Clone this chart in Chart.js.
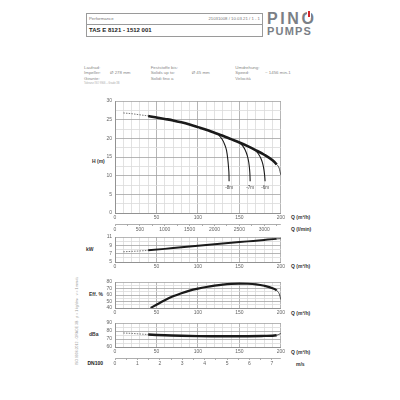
<!DOCTYPE html>
<html>
<head>
<meta charset="utf-8">
<script src="https://cdn.jsdelivr.net/npm/chart.js@4.4.1/dist/chart.umd.min.js"></script>
<style>
  body { margin: 0; width: 400px; height: 400px; background: #fff; position: relative; overflow: hidden;
         font-family: "Liberation Sans", Arial, sans-serif; }
  canvas { position: absolute; }
  .t { position: absolute; white-space: nowrap; line-height: 1; }
  .spec { font-size: 4.4px; color: #888; }
  .lbl { font-size: 5px; color: #333; font-weight: bold; }
</style>
</head>
<body>
<!-- header -->
<div style="position:absolute;left:86px;top:13px;width:175px;height:22px;border:0.8px solid #9a9a9a;"></div>
<div style="position:absolute;left:86px;top:24.3px;width:176px;height:0;border-top:0.8px solid #9a9a9a;"></div>
<div class="t" style="left:89px;top:17.2px;font-size:4.3px;color:#777;">Performance</div>
<div class="t" style="right:140px;top:17.2px;font-size:4.3px;color:#777;">21031008 / 10.03.21 / 1 - 1</div>
<div class="t" style="left:89px;top:26.8px;font-size:6px;font-weight:bold;color:#222;">TAS E 8121 - 1512 001</div>
<div class="t" style="left:267px;top:11px;font-size:16px;font-weight:bold;letter-spacing:2.6px;color:#7b7f86;">PINO</div>
<div style="position:absolute;left:308px;top:10.5px;width:2px;height:6.5px;background:#d6262b;box-shadow:0 0 0 1px #fff;"></div>
<div class="t" style="left:267px;top:25.6px;font-size:11px;font-weight:bold;letter-spacing:1.2px;color:#7b7f86;">PUMPS</div>

<!-- specs -->
<div class="t spec" style="left:84px;top:65.6px;">Laufrad:</div>
<div class="t spec" style="left:84px;top:71.2px;">Impeller:</div>
<div class="t spec" style="left:110px;top:71.2px;">Ø 278 mm</div>
<div class="t spec" style="left:84px;top:77.2px;">Girante:</div>
<div class="t" style="left:84px;top:82.8px;font-size:2.6px;color:#aaa;">Toleranz ISO 9906 – Grade 3B</div>
<div class="t spec" style="left:150.7px;top:65.6px;">Feststoffe bis:</div>
<div class="t spec" style="left:150.7px;top:71.2px;">Solids up to:</div>
<div class="t spec" style="left:191.7px;top:71.2px;">Ø 45 mm</div>
<div class="t spec" style="left:150.7px;top:77.2px;">Solidi fino a</div>
<div class="t spec" style="left:235.3px;top:65.6px;">Umdrehung:</div>
<div class="t spec" style="left:235.3px;top:71.2px;">Speed:</div>
<div class="t spec" style="left:265px;top:71.2px;">~ 1456 min-1</div>
<div class="t spec" style="left:235.3px;top:77.2px;">Velocità</div>

<!-- axis captions -->
<div class="t lbl" style="left:92px;top:159.3px;">H (m)</div>
<div class="t lbl" style="left:291px;top:214.8px;">Q (m³/h)</div>
<div class="t lbl" style="left:291px;top:226.6px;">Q (l/min)</div>
<div class="t lbl" style="left:86px;top:246.6px;">kW</div>
<div class="t lbl" style="left:291px;top:264.1px;">Q (m³/h)</div>
<div class="t lbl" style="left:89px;top:291.6px;">Eff. %</div>
<div class="t lbl" style="left:291px;top:310.6px;">Q (m³/h)</div>
<div class="t lbl" style="left:89px;top:331.6px;">dBa</div>
<div class="t lbl" style="left:291px;top:349.6px;">Q (m³/h)</div>
<div class="t lbl" style="left:87.5px;top:361px;color:#222;">DN100</div>
<div class="t lbl" style="left:296px;top:361.6px;">m/s</div>
<div class="t" style="left:78px;top:321px;font-size:3.5px;color:#999;transform:translate(-50%,-50%) rotate(-90deg);">ISO 9906:2012 - GRADE 3B &nbsp; ρ = 1 kg/dm³ &nbsp; ν = 1 mm²/s</div>

<script>
// head curve (Q m³/h -> H m)
const headQ = [10, 20, 30, 40, 50, 60, 70, 80, 90, 100, 110, 120, 130, 140, 150, 160, 170, 180, 190, 195, 198, 200];
const headH = [26.8, 26.6, 26.3, 26.0, 25.6, 25.2, 24.8, 24.3, 23.7, 23.0, 22.3, 21.5, 20.7, 19.8, 18.9, 17.9, 16.8, 15.6, 14.1, 13.0, 12.0, 10.2];

// NPSH branches
const npshLabels = ['-8m', '-7m', '-6m'];
const branch8Q = [125, 129, 132, 134.5, 136, 137, 137.5, 137.6];
const branch8H = [20.9, 19.8, 18.5, 16.8, 14.5, 12.0, 10.0, 8.5];
const branch7Q = [150, 154, 157, 159.5, 161.3, 162.3, 162.8, 163];
const branch7H = [18.9, 18.0, 16.9, 15.4, 13.6, 11.7, 10.0, 8.5];
const branch6Q = [169, 173, 176, 178.3, 179.6, 180.4, 180.8, 181];
const branch6H = [16.9, 15.8, 14.6, 13.1, 11.6, 10.2, 9.2, 8.5];

// power
const powerQ = [10, 20, 30, 40, 60, 80, 100, 120, 140, 160, 180, 195, 200];
const powerKW = [7.45, 7.55, 7.65, 7.8, 8.15, 8.55, 8.9, 9.25, 9.6, 9.95, 10.3, 10.55, 10.6];

// efficiency
const effQ = [43, 50, 60, 70, 80, 90, 100, 110, 120, 130, 140, 150, 160, 170, 180, 190, 195, 198, 200];
const effPct = [40, 45, 52, 58, 62.8, 66.8, 69.8, 72.3, 74.3, 75.9, 77.0, 77.5, 77.3, 76.4, 74.2, 70.5, 67, 62, 53];

// noise
const noiseQ = [10, 20, 30, 40, 60, 80, 100, 120, 140, 160, 180, 195, 200];
const noiseDB = [77.5, 77.0, 76.3, 75.6, 74.6, 74.0, 73.6, 73.4, 73.4, 73.5, 73.9, 74.7, 77];

// axes
const qMax = 200;
const lminMax = qMax * 1000 / 60;
const velocityAt200 = 7.4; // DN100

const tickFont = { family: 'Liberation Sans', size: 5 };
const tickColor = '#666';
const gridMinor = '#dadada';
const gridMajor = '#a3a3a3';
const curveColor = '#1a1a1a';

function range(a, b, s) {
  const out = [];
  for (let v = a; v <= b + 1e-9; v += s) out.push(+v.toFixed(4));
  return out;
}
function mult(v, m) {
  return Math.abs(v / m - Math.round(v / m)) < 1e-6;
}
function pts(xs, ys) {
  return xs.map((x, i) => ({ x: x, y: ys[i] }));
}

function qAxis(h) {
  return {
    type: 'linear', position: 'bottom', weight: 0, min: 0, max: qMax,
    afterBuildTicks: s => { s.ticks = range(0, qMax, 10).map(v => ({ value: v })); },
    afterFit: s => { s.height = h; },
    ticks: { autoSkip: false, maxRotation: 0, padding: 2, color: tickColor, font: tickFont,
             callback: v => mult(v, 50) ? v : '' },
    grid: { color: c => (c.tick && mult(c.tick.value, 50)) ? gridMajor : gridMinor, lineWidth: 0.8, tickLength: 0 },
    border: { color: '#8a8a8a', width: 0.8 }
  };
}

function valueAxis(min, max, step, every) {
  return {
    type: 'linear', min: min, max: max,
    afterBuildTicks: s => { s.ticks = range(min, max, step).map(v => ({ value: v })); },
    afterFit: s => { s.width = 35; },
    ticks: { autoSkip: false, padding: 3, color: tickColor, font: tickFont,
             callback: v => mult(v - min, every) ? v : '' },
    grid: { color: c => (c.tick && mult(c.tick.value - min, every)) ? gridMajor : gridMinor, lineWidth: 0.8, tickLength: 0 },
    border: { color: '#8a8a8a', width: 0.8 }
  };
}

function extraAxis(max, step, every, h) {
  return {
    type: 'linear', axis: 'x', position: 'bottom', weight: 1, min: 0, max: max,
    afterBuildTicks: s => { s.ticks = range(0, max, step).map(v => ({ value: v })); },
    afterFit: s => { s.height = h; },
    ticks: { autoSkip: false, maxRotation: 0, padding: 1, color: tickColor, font: tickFont,
             callback: v => mult(v, every) ? v : '' },
    grid: { drawOnChartArea: false, tickLength: 2, color: '#777', lineWidth: 0.6 },
    border: { color: '#777', width: 0.6 }
  };
}

// thin dashed below Q=40, thin solid above 195, thick in between
function curve(xs, ys, thick) {
  return {
    data: pts(xs, ys), xAxisID: 'x', yAxisID: 'y',
    showLine: true, pointRadius: 0, borderColor: curveColor, borderWidth: thick,
    cubicInterpolationMode: 'monotone', borderDash: [],
    segment: {
      borderWidth: c => (c.p1.parsed.x <= 40 || c.p0.parsed.x >= 195) ? 0.8 : thick,
      borderDash: c => (c.p1.parsed.x <= 40) ? [1.5, 1.2] : undefined,
      borderColor: c => (c.p1.parsed.x <= 40) ? '#555' : undefined
    }
  };
}
function branch(xs, ys) {
  return {
    data: pts(xs, ys), xAxisID: 'x', yAxisID: 'y',
    showLine: true, pointRadius: 0, borderColor: curveColor, borderWidth: 1.1,
    cubicInterpolationMode: 'monotone'
  };
}

const npshPlugin = {
  id: 'npshLabels',
  afterDatasetsDraw(chart) {
    const { ctx, scales } = chart;
    const ends = [[branch8Q, branch8H], [branch7Q, branch7H], [branch6Q, branch6H]];
    ctx.save();
    ctx.font = '4.5px "Liberation Sans"';
    ctx.fillStyle = '#444';
    ctx.textAlign = 'center';
    ctx.textBaseline = 'top';
    ends.forEach((b, i) => {
      const n = b[0].length - 1;
      ctx.fillText(npshLabels[i], scales.x.getPixelForValue(b[0][n]), scales.y.getPixelForValue(b[1][n]) + 4.5);
    });
    ctx.restore();
  }
};

function makeChart(left, top, height, datasets, scales, plugins) {
  const cv = document.createElement('canvas');
  cv.width = 207;
  cv.height = height;
  cv.style.left = left + 'px';
  cv.style.top = top + 'px';
  document.body.appendChild(cv);
  return new Chart(cv, {
    type: 'scatter',
    data: { datasets: datasets },
    options: {
      responsive: false, animation: false,
      layout: { padding: { top: 6, right: 6, left: 0, bottom: 0 } },
      scales: scales,
      plugins: { legend: { display: false }, tooltip: { enabled: false } }
    },
    plugins: plugins || []
  });
}

// H (m)
makeChart(80, 95, 138,
  [curve(headQ, headH, 2.6), branch(branch8Q, branch8H), branch(branch7Q, branch7H), branch(branch6Q, branch6H)],
  { x: qAxis(11), q2: extraAxis(lminMax, 250, 500, 9), y: valueAxis(0, 30, 2.5, 5) },
  [npshPlugin]);

// kW
makeChart(80, 231, 40,
  [curve(powerQ, powerKW, 2.0)],
  { x: qAxis(9), y: valueAxis(5, 11, 1, 2) });

// Eff. %
makeChart(80, 276, 41,
  [curve(effQ, effPct, 2.2)],
  { x: qAxis(9), y: valueAxis(40, 80, 5, 10) });

// dBa + DN100 velocity
makeChart(80, 317, 50,
  [curve(noiseQ, noiseDB, 2.4)],
  { x: qAxis(11), v2: extraAxis(velocityAt200, 0.5, 1, 9), y: valueAxis(60, 90, 5, 10) });
</script>
</body>
</html>
